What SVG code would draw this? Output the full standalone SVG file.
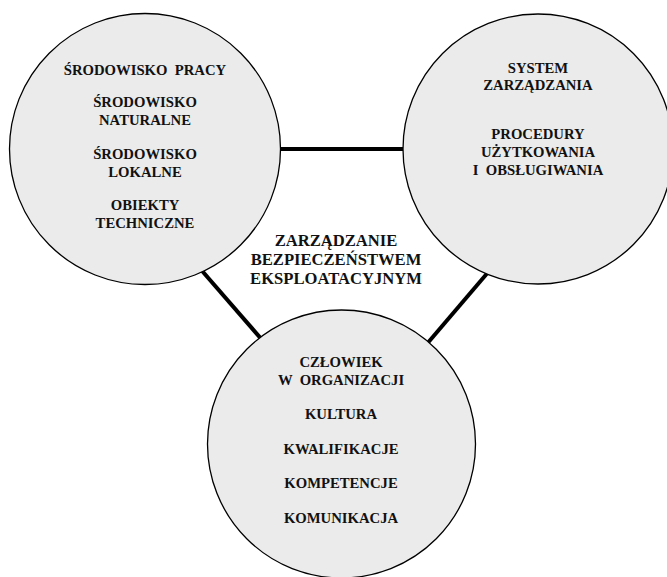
<svg xmlns="http://www.w3.org/2000/svg" width="667" height="577" viewBox="0 0 667 577">
  <style>
    .bubble { fill: #ebebeb; stroke: #000; stroke-width: 1.3; }
    .link { stroke: #000; stroke-width: 4; fill: none; }
    .pre { white-space: pre; }
  </style>
  <rect width="667" height="577" fill="#fff"/>

  <!-- connectors between the three areas -->
  <g id="connectors">
    <line class="link" x1="200" y1="149" x2="480" y2="149"/>
    <line class="link" x1="190" y1="257" x2="270" y2="349"/>
    <line class="link" x1="490" y1="270" x2="420" y2="352"/>
  </g>

  <!-- all labels: bold serif capitals, centred -->
  <g font-family="'Liberation Serif', 'Times New Roman', serif" font-weight="bold" font-size="14.7" fill="#111" text-anchor="middle">

    <!-- central label -->
    <g id="center" font-size="16.6">
      <text x="336" y="246">ZARZĄDZANIE</text>
      <text x="336" y="265">BEZPIECZEŃSTWEM</text>
      <text x="336" y="284">EKSPLOATACYJNYM</text>
    </g>

    <!-- environment -->
    <g id="environment">
      <circle class="bubble" cx="145" cy="149" r="135.5"/>
      <text class="pre" x="145" y="75" xml:space="preserve">ŚRODOWISKO  PRACY</text>
      <text x="145" y="107">ŚRODOWISKO</text>
      <text x="145" y="125">NATURALNE</text>
      <text x="145" y="159">ŚRODOWISKO</text>
      <text x="145" y="177">LOKALNE</text>
      <text x="145" y="210">OBIEKTY</text>
      <text x="145" y="228">TECHNICZNE</text>
    </g>

    <!-- management system -->
    <g id="system">
      <circle class="bubble" cx="538" cy="149" r="135"/>
      <text x="538" y="73">SYSTEM</text>
      <text x="538" y="90">ZARZĄDZANIA</text>
      <text x="538" y="139">PROCEDURY</text>
      <text x="538" y="157">UŻYTKOWANIA</text>
      <text class="pre" x="538" y="175" xml:space="preserve">I  OBSŁUGIWANIA</text>
    </g>

    <!-- people -->
    <g id="people">
      <circle class="bubble" cx="341.5" cy="444" r="134"/>
      <text x="341" y="367">CZŁOWIEK</text>
      <text class="pre" x="341" y="385" xml:space="preserve">W  ORGANIZACJI</text>
      <text x="341" y="419">KULTURA</text>
      <text x="341" y="454">KWALIFIKACJE</text>
      <text x="341" y="488">KOMPETENCJE</text>
      <text x="341" y="523">KOMUNIKACJA</text>
    </g>
  </g>
</svg>
